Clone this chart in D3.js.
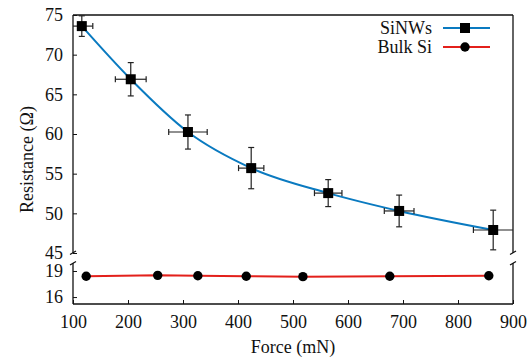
<!DOCTYPE html>
<html>
<head>
<meta charset="utf-8">
<script src="https://cdn.jsdelivr.net/npm/d3@7"></script>
<style>
body { margin: 0; background: #fff; }
text { font-family: "Liberation Serif", "Times New Roman", serif; fill: #111; }
</style>
</head>
<body>
<div class="chart"></div>
<script>
// SiNWs: force (mN), resistance (ohm), errors
const nwForce = [116, 205, 309, 424, 564, 693, 864];
const nwRes   = [73.6, 66.9, 60.25, 55.7, 52.55, 50.3, 47.9];
const nwErrX  = [20, 28, 35, 23, 25, 27, 36];
const nwErrY  = [1.3, 2.1, 2.15, 2.6, 1.7, 2.0, 2.5];

// Bulk Si
const bulkForce = [124, 254, 327, 415, 518, 676, 856];
const bulkRes   = [18.4, 18.5, 18.45, 18.4, 18.35, 18.4, 18.45];

const xTicks = [100, 200, 300, 400, 500, 600, 700, 800, 900];
const yTicksTop = [45, 50, 55, 60, 65, 70, 75];
const yTicksBot = [16, 19];

const W = 528, H = 358;
const pLeft = 73, pRight = 513, pTop = 15, pBottom = 304;
const breakTop = 253, breakBot = 263;
const FONT = '"Liberation Serif", "Times New Roman", serif';
const FS = 18;

const svg = d3.select('.chart').append('svg')
    .attr('width', W).attr('height', H)
    .attr('font-family', FONT);

const x = d3.scaleLinear().domain([100, 900]).range([pLeft, pRight]);
const yTop = d3.scaleLinear().domain([45, 75]).range([breakTop, pTop]);
const yBot = d3.scaleLinear().domain([15.2, 19.92]).range([pBottom, breakBot]);

const blue = '#0a7ac0', red = '#e3201b';

// frame
const frame = svg.append('g').attr('stroke', '#111').attr('stroke-width', 1.3).attr('fill', 'none');
frame.append('line').attr('x1', pLeft).attr('x2', pRight).attr('y1', pTop).attr('y2', pTop);
frame.append('line').attr('x1', pLeft).attr('x2', pRight).attr('y1', pBottom).attr('y2', pBottom);
[pLeft, pRight].forEach(px => {
    frame.append('line').attr('x1', px).attr('x2', px).attr('y1', pTop).attr('y2', breakTop);
    frame.append('line').attr('x1', px).attr('x2', px).attr('y1', breakBot).attr('y2', pBottom);
    frame.append('line').attr('x1', px - 3).attr('x2', px + 3).attr('y1', breakTop + 1.5).attr('y2', breakTop - 2);
    frame.append('line').attr('x1', px - 3).attr('x2', px + 3).attr('y1', breakBot + 2).attr('y2', breakBot - 1.5);
});

function styleAxis(g) {
    g.attr('font-family', FONT).attr('font-size', FS);
    g.select('.domain').remove();
    g.selectAll('line').attr('stroke', '#111');
    g.selectAll('text').attr('fill', '#111');
}

// x axis
svg.append('g')
    .attr('transform', `translate(0,${pBottom})`)
    .call(d3.axisBottom(x).tickValues(xTicks).tickSize(-4).tickPadding(11).tickFormat(d3.format('d')))
    .call(styleAxis);

// y axes (broken)
[[yTop, yTicksTop], [yBot, yTicksBot]].forEach(([scale, ticks]) => {
    svg.append('g')
        .attr('transform', `translate(${pLeft},0)`)
        .call(d3.axisLeft(scale).tickValues(ticks).tickSize(-4).tickPadding(10).tickFormat(d3.format('d')))
        .call(styleAxis);
});

// axis titles
svg.append('text')
    .attr('x', (pLeft + pRight) / 2).attr('y', 353)
    .attr('text-anchor', 'middle').attr('font-size', FS)
    .text('Force (mN)');
svg.append('text')
    .attr('transform', `translate(33,${(pTop + pBottom) / 2}) rotate(-90)`)
    .attr('text-anchor', 'middle').attr('font-size', FS)
    .text('Resistance (Ω)');

const nw = nwForce.map((f, i) => ({f, r: nwRes[i], ex: nwErrX[i], ey: nwErrY[i]}));
const bulk = bulkForce.map((f, i) => ({f, r: bulkRes[i]}));

// bulk line
svg.append('path')
    .datum(bulk)
    .attr('fill', 'none').attr('stroke', red).attr('stroke-width', 2)
    .attr('d', d3.line().x(d => x(d.f)).y(d => yBot(d.r)));

// SiNWs curve
svg.append('path')
    .datum(nw)
    .attr('fill', 'none').attr('stroke', blue).attr('stroke-width', 2)
    .attr('d', d3.line().curve(d3.curveMonotoneX).x(d => x(d.f)).y(d => yTop(d.r)));

// error bars
const eb = svg.append('g').attr('stroke', '#222').attr('stroke-width', 1.2);
nw.forEach(d => {
    const cx = x(d.f), cy = yTop(d.r);
    const x0 = Math.max(pLeft, x(d.f - d.ex)), x1 = Math.min(pRight, x(d.f + d.ex));
    const y0 = Math.max(pTop, yTop(d.r + d.ey)), y1 = yTop(d.r - d.ey);
    eb.append('line').attr('x1', x0).attr('x2', x1).attr('y1', cy).attr('y2', cy);
    eb.append('line').attr('x1', cx).attr('x2', cx).attr('y1', y0).attr('y2', y1);
    if (x0 > pLeft) eb.append('line').attr('x1', x0).attr('x2', x0).attr('y1', cy - 3).attr('y2', cy + 3);
    if (x1 < pRight) eb.append('line').attr('x1', x1).attr('x2', x1).attr('y1', cy - 3).attr('y2', cy + 3);
    eb.append('line').attr('x1', cx - 3).attr('x2', cx + 3).attr('y1', y0).attr('y2', y0);
    eb.append('line').attr('x1', cx - 3).attr('x2', cx + 3).attr('y1', y1).attr('y2', y1);
});

// markers
svg.append('g').selectAll('rect').data(nw).join('rect')
    .attr('x', d => x(d.f) - 5).attr('y', d => yTop(d.r) - 5)
    .attr('width', 10).attr('height', 10).attr('fill', '#000');
svg.append('g').selectAll('circle').data(bulk).join('circle')
    .attr('cx', d => x(d.f)).attr('cy', d => yBot(d.r))
    .attr('r', 4.7).attr('fill', '#000');

// legend
const legend = [
    {label: 'SiNWs', color: blue, shape: 'square', y: 28},
    {label: 'Bulk Si', color: red, shape: 'circle', y: 47}
];
legend.forEach(l => {
    svg.append('text').attr('x', 432).attr('y', l.y).attr('dy', '0.35em')
        .attr('text-anchor', 'end').attr('font-size', FS).text(l.label);
    svg.append('line').attr('x1', 443).attr('x2', 490).attr('y1', l.y).attr('y2', l.y)
        .attr('stroke', l.color).attr('stroke-width', 2);
    if (l.shape === 'square') {
        svg.append('rect').attr('x', 460).attr('y', l.y - 5).attr('width', 10).attr('height', 10).attr('fill', '#000');
    } else {
        svg.append('circle').attr('cx', 465).attr('cy', l.y).attr('r', 4.7).attr('fill', '#000');
    }
});
</script>
</body>
</html>
